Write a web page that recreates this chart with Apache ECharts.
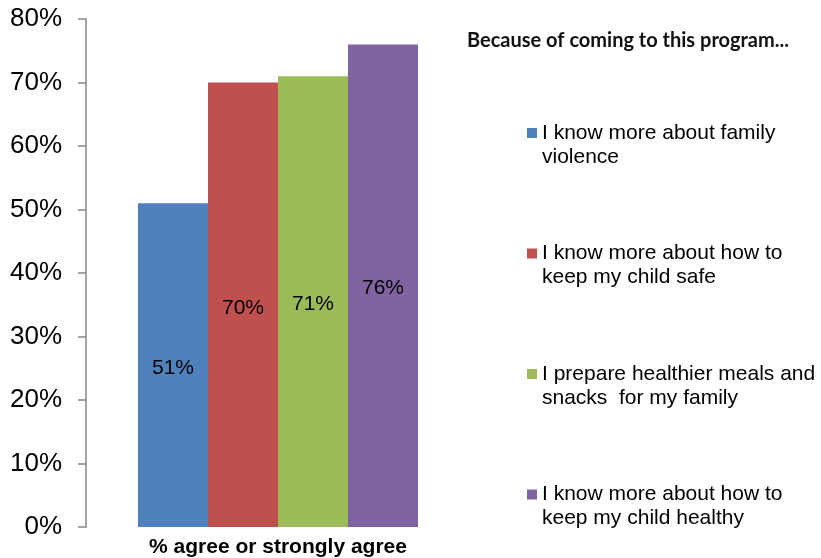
<!DOCTYPE html>
<html>
<head>
<meta charset="utf-8">
<title>Because of coming to this program...</title>
<script src="https://cdn.jsdelivr.net/npm/echarts@6/dist/echarts.min.js"></script>
<style>
  html, body { margin: 0; padding: 0; background: #ffffff; }
  #chart { width: 821px; height: 558px; }
</style>
</head>
<body>
<div id="chart"></div>
<script>
// Survey outcome: share of participants who agree or strongly agree
var categories = ['% agree or strongly agree'];
var statements = [
  'I know more about family violence',
  'I know more about how to keep my child safe',
  'I prepare healthier meals and snacks  for my family',
  'I know more about how to keep my child healthy'
];
// wrapped forms used in the legend (leading blank line keeps the swatch beside the first line)
var statementLines = [
  '\nI know more about family\nviolence',
  '\nI know more about how to\nkeep my child safe',
  '\nI prepare healthier meals and\nsnacks  for my family',
  '\nI know more about how to\nkeep my child healthy'
];
var agreePercent = [51, 70, 71, 76];
var yTicks = [0, 10, 20, 30, 40, 50, 60, 70, 80];
var colors = ['#4F81BD', '#C0504D', '#9BBB59', '#8064A2'];

var chart = echarts.init(document.getElementById('chart'), null, { renderer: 'canvas' });

var series = statements.map(function (name, i) {
  return {
    name: name,
    type: 'bar',
    data: [agreePercent[i]],
    barWidth: 70,
    barGap: '0%',
    itemStyle: { color: colors[i] },
    label: {
      show: true,
      position: 'inside',
      offset: [0, 3],
      formatter: '{c}%',
      fontFamily: 'Liberation Sans, Arial, sans-serif',
      fontSize: 21,
      color: '#000000'
    },
    emphasis: { disabled: true }
  };
});

chart.setOption({
  animation: false,
  backgroundColor: '#ffffff',
  title: {
    text: 'Because of coming to this program...',
    left: 467,
    top: 31,
    padding: 0,
    textStyle: {
      fontFamily: 'Lato, sans-serif',
      fontWeight: 'bold',
      fontSize: 20,
      color: '#111111'
    }
  },
  legend: {
    orient: 'vertical',
    left: 527,
    top: 97,
    padding: 0,
    itemGap: 48.5,
    itemWidth: 10,
    itemHeight: 10,
    icon: 'rect',
    selectedMode: false,
    data: statements,
    formatter: function (name) {
      return statementLines[statements.indexOf(name)];
    },
    textStyle: {
      fontFamily: 'Liberation Sans, Arial, sans-serif',
      fontSize: 21,
      lineHeight: 24,
      color: '#000000'
    }
  },
  grid: {
    left: 86,
    right: 351,
    top: 19,
    bottom: 30,
    containLabel: false
  },
  xAxis: {
    type: 'category',
    data: categories,
    axisLine: { show: false },
    axisTick: { show: false },
    axisLabel: {
      margin: 10,
      fontFamily: 'Liberation Sans, Arial, sans-serif',
      fontWeight: 'bold',
      fontSize: 21,
      color: '#000000'
    }
  },
  yAxis: {
    type: 'value',
    min: yTicks[0],
    max: yTicks[yTicks.length - 1],
    interval: yTicks[1] - yTicks[0],
    axisLine: { show: true, lineStyle: { color: '#868686', width: 1.5 } },
    axisTick: { show: true, length: 8, lineStyle: { color: '#868686', width: 1.5 } },
    splitLine: { show: false },
    axisLabel: {
      margin: 24,
      formatter: '{value}%',
      fontFamily: 'Liberation Sans, Arial, sans-serif',
      fontSize: 26,
      color: '#000000'
    }
  },
  series: series
});
</script>
</body>
</html>
